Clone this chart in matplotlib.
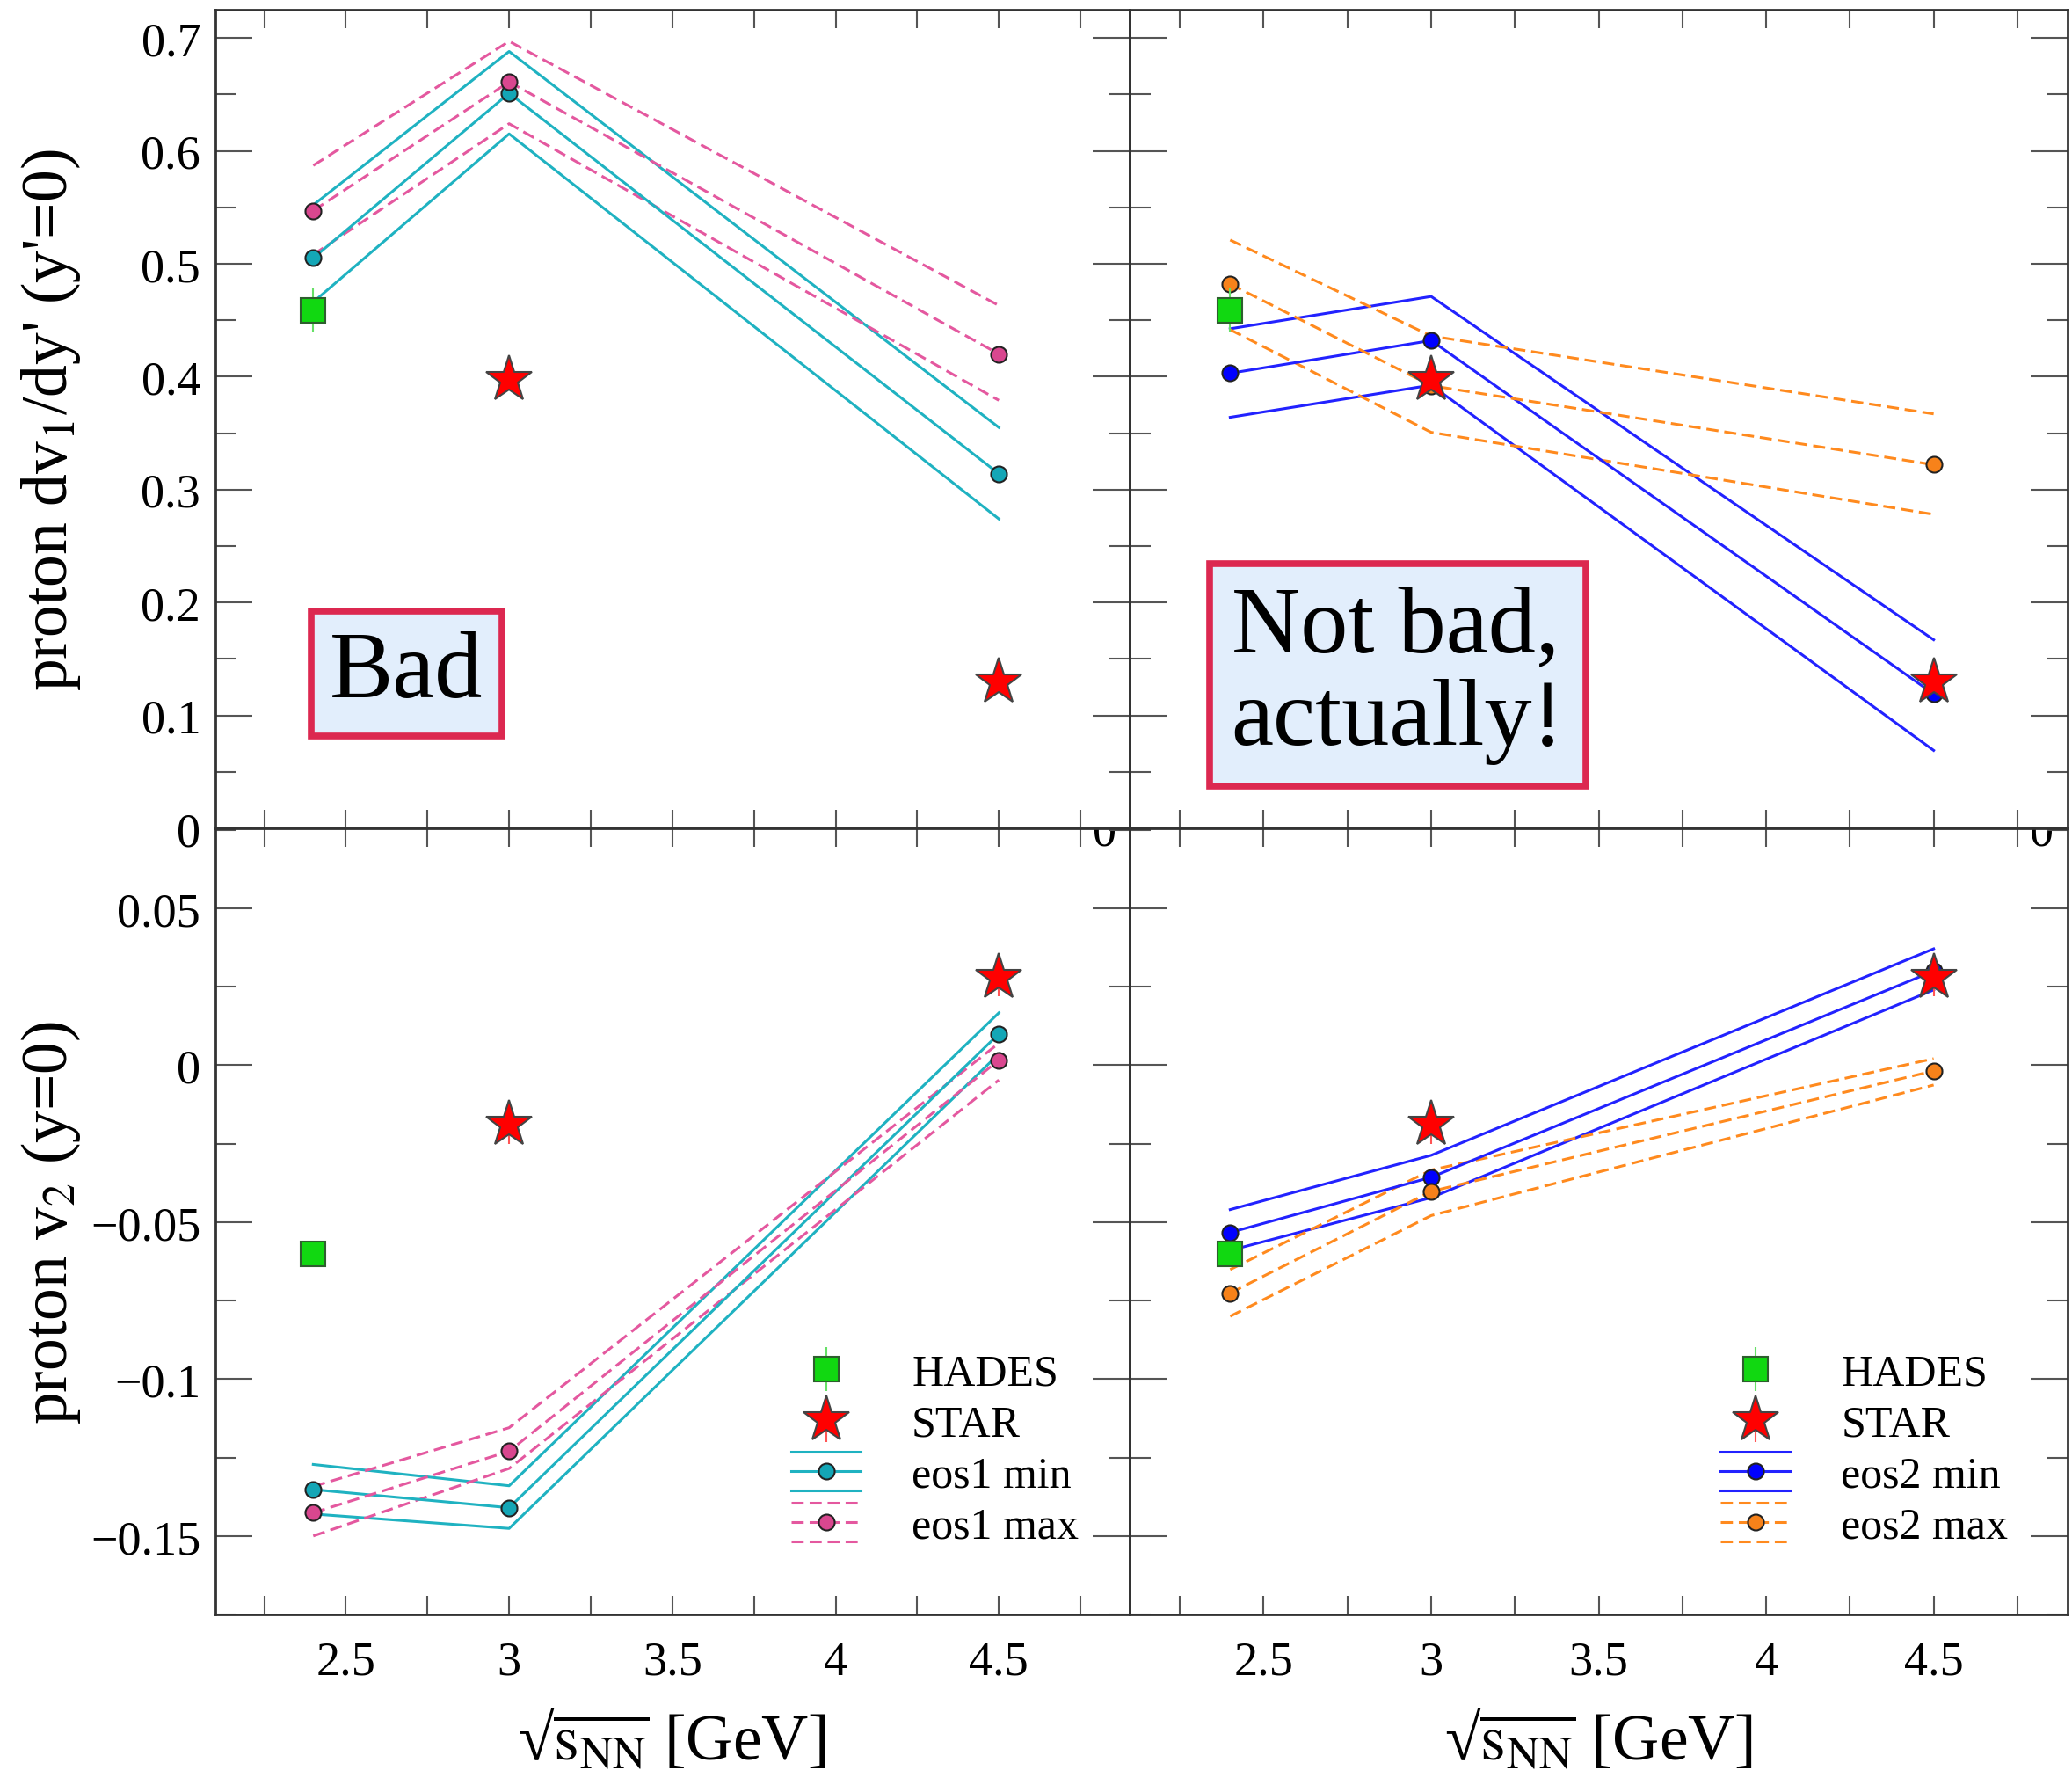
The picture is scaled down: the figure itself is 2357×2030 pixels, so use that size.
import matplotlib
matplotlib.use("Agg")
import matplotlib.pyplot as plt
from matplotlib.legend_handler import HandlerBase
from matplotlib.lines import Line2D
from matplotlib.ticker import MultipleLocator, FuncFormatter

plt.rcParams["font.family"] = ["Liberation Serif", "DejaVu Serif"]
plt.rcParams["mathtext.fontset"] = "stix"

# ── data ────────────────────────────────────────────────────────────────────
ENERGY = [2.4, 3.0, 4.5]

HADES_X = [2.4]
HADES_V1, HADES_V1_ERR = [0.459], [0.02]
HADES_V2, HADES_V2_ERR = [-0.060], [0.004]

STAR_X = [3.0, 4.5]
STAR_V1, STAR_V1_ERR = [0.397, 0.129], [0.008, 0.008]
STAR_V2, STAR_V2_ERR = [-0.019, 0.028], [0.006, 0.006]

# slope of v1 at midrapidity: (lower, central, upper)
EOS1_MIN_V1 = ([0.466, 0.615, 0.274], [0.505, 0.651, 0.314], [0.552, 0.688, 0.355])
EOS1_MAX_V1 = ([0.508, 0.624, 0.379], [0.547, 0.661, 0.420], [0.587, 0.697, 0.463])
EOS2_MIN_V1 = ([0.364, 0.3925, 0.069], [0.403, 0.432, 0.119], [0.4424, 0.471, 0.167])
EOS2_MAX_V1 = ([0.4416, 0.3507, 0.278], [0.482, 0.392, 0.322], [0.521, 0.436, 0.367])

# v2 at midrapidity: (lower, central, upper)
EOS1_MIN_V2 = ([-0.143, -0.1476, 0.0036], [-0.1352, -0.141, 0.0100], [-0.1272, -0.134, 0.0167])
EOS1_MAX_V2 = ([-0.150, -0.1285, -0.0047], [-0.1426, -0.123, 0.0016], [-0.1342, -0.1155, 0.0070])
EOS2_MIN_V2 = ([-0.059, -0.0422, 0.024], [-0.0533, -0.0357, 0.0300], [-0.046, -0.0287, 0.0371])
EOS2_MAX_V2 = ([-0.080, -0.0479, -0.0063], [-0.0726, -0.0402, -0.0018], [-0.0651, -0.0334, 0.0021])

# ── style ───────────────────────────────────────────────────────────────────
CYAN, CYAN_MK = "#1fb2c1", "#14a6b6"
PINK, PINK_MK = "#e4589f", "#d9478f"
BLUE, BLUE_MK = "#2222ff", "#0000ff"
ORNG, ORNG_MK = "#ff8a1e", "#f7821a"
DASH = (0, (4.5, 2.2))
LW, MS, EDGE = 2.2, 13, "#222222"
TICK_FS, LABEL_FS, LEG_FS, NOTE_FS = 39, 53, 36, 78
BOX_FC, BOX_EC = "#e2eefc", "#dc2850"


class BandHandler(HandlerBase):
    """Legend entry: central line with marker plus the two band edges."""

    def __init__(self, color, ls, mfc, gap=16.0):
        super().__init__()
        self.color, self.ls, self.mfc, self.gap = color, ls, mfc, gap

    def create_artists(self, legend, orig_handle, xdescent, ydescent,
                       width, height, fontsize, trans):
        yc = height / 2 - ydescent
        x0, x1 = -xdescent, width - xdescent
        arts = []
        for dy in (-self.gap, 0.0, self.gap):
            ln = Line2D([x0, x1], [yc + dy] * 2, color=self.color, ls=self.ls, lw=LW)
            ln.set_transform(trans)
            arts.append(ln)
        mk = Line2D([(x0 + x1) / 2], [yc], marker="o", ms=MS, mfc=self.mfc,
                    mec=EDGE, mew=1.5, ls="none")
        mk.set_transform(trans)
        arts.append(mk)
        return arts


def fmt(v, _):
    v = round(v, 4) + 0.0
    return f"{v:g}".replace("-", "\u2212")


def style_axes(ax, ylim, ymaj, ymin, ylabels, xlabels):
    ax.set_xlim(2.1, 4.9)
    ax.set_ylim(*ylim)
    ax.xaxis.set_major_locator(MultipleLocator(0.5))
    ax.xaxis.set_minor_locator(MultipleLocator(0.25))
    ax.yaxis.set_major_locator(MultipleLocator(ymaj))
    ax.yaxis.set_minor_locator(MultipleLocator(ymin))
    ax.xaxis.set_major_formatter(FuncFormatter(fmt))
    ax.yaxis.set_major_formatter(FuncFormatter(fmt))
    ax.tick_params(which="both", direction="in", top=True, right=True,
                   width=1.5, color="#555555", labelsize=TICK_FS)
    ax.tick_params(axis="x", which="both", length=15, pad=21, labelbottom=xlabels)
    ax.tick_params(axis="y", which="major", length=30, pad=12, labelleft=ylabels)
    ax.tick_params(axis="y", which="minor", length=17)
    for sp in ax.spines.values():
        sp.set_linewidth(2.0)
        sp.set_edgecolor("#333333")


def draw_model(ax, band, color, mfc, ls):
    lo, mid, hi = band
    for y in (lo, hi):
        ax.plot(ENERGY, y, color=color, ls=ls, lw=LW, zorder=2)
    ax.plot(ENERGY, mid, color=color, ls=ls, lw=LW, marker="o", ms=MS,
            mfc=mfc, mec=EDGE, mew=1.5, zorder=3)


def draw_data(ax, hades, hades_err, star, star_err):
    h = ax.errorbar(HADES_X, hades, yerr=hades_err, fmt="s", ms=20, mfc="#11d811",
                    mec="#2e5e2e", mew=1.5, ecolor="#66e066", elinewidth=1.5,
                    capsize=0, zorder=6)
    s = ax.errorbar(STAR_X, star, yerr=star_err, fmt="*", ms=40, mfc="#ff0000",
                    mec="#444444", mew=1.5, ecolor="#ff5555", elinewidth=1.5,
                    capsize=0, zorder=6)
    return h, s


fig = plt.figure(figsize=(23.57, 20.31), dpi=100)
ax_tl = fig.add_axes([0.1039, 0.5357, 0.4412, 0.4584])
ax_tr = fig.add_axes([0.5452, 0.5357, 0.4527, 0.4584])
ax_bl = fig.add_axes([0.1039, 0.0955, 0.4412, 0.4402])
ax_br = fig.add_axes([0.5452, 0.0955, 0.4527, 0.4402])

style_axes(ax_tl, (0, 0.725), 0.1, 0.05, True, False)
style_axes(ax_tr, (0, 0.725), 0.1, 0.05, False, False)
style_axes(ax_bl, (-0.175, 0.0755), 0.05, 0.025, True, True)
style_axes(ax_br, (-0.175, 0.0755), 0.05, 0.025, False, True)

# top row: dv1/dy'
draw_model(ax_tl, EOS1_MIN_V1, CYAN, CYAN_MK, "-")
draw_model(ax_tl, EOS1_MAX_V1, PINK, PINK_MK, DASH)
draw_data(ax_tl, HADES_V1, HADES_V1_ERR, STAR_V1, STAR_V1_ERR)

draw_model(ax_tr, EOS2_MIN_V1, BLUE, BLUE_MK, "-")
draw_model(ax_tr, EOS2_MAX_V1, ORNG, ORNG_MK, DASH)
draw_data(ax_tr, HADES_V1, HADES_V1_ERR, STAR_V1, STAR_V1_ERR)

# bottom row: v2
draw_model(ax_bl, EOS1_MIN_V2, CYAN, CYAN_MK, "-")
draw_model(ax_bl, EOS1_MAX_V2, PINK, PINK_MK, DASH)
h_l, s_l = draw_data(ax_bl, HADES_V2, HADES_V2_ERR, STAR_V2, STAR_V2_ERR)

draw_model(ax_br, EOS2_MIN_V2, BLUE, BLUE_MK, "-")
draw_model(ax_br, EOS2_MAX_V2, ORNG, ORNG_MK, DASH)
h_r, s_r = draw_data(ax_br, HADES_V2, HADES_V2_ERR, STAR_V2, STAR_V2_ERR)

# legends with three-line band entries
for ax, h, s, tag, (c1, m1), (c2, m2) in (
        (ax_bl, h_l, s_l, "eos1", (CYAN, CYAN_MK), (PINK, PINK_MK)),
        (ax_br, h_r, s_r, "eos2", (BLUE, BLUE_MK), (ORNG, ORNG_MK))):
    p_min, p_max = Line2D([], []), Line2D([], [])
    ax.legend([h, s, p_min, p_max], ["HADES", "STAR", f"{tag} min", f"{tag} max"],
              handler_map={p_min: BandHandler(c1, "-", m1),
                           p_max: BandHandler(c2, DASH, m2)},
              loc="upper left", bbox_to_anchor=(0.63, 0.332), frameon=False,
              fontsize=LEG_FS, handlelength=1.58, handletextpad=1.16,
              labelspacing=0.23, borderpad=0, borderaxespad=0)

# stray "0" labels peeking below the row divider
for ax in (ax_bl, ax_br):
    ax.text(4.823, 0.979, "0", transform=ax.get_xaxis_transform(), ha="center",
            va="baseline", fontsize=TICK_FS, clip_on=True, zorder=1)

# axis labels
ax_tl.set_ylabel("proton dv$_1$/dy' (y'=0)", fontsize=LABEL_FS)
ax_bl.set_ylabel("proton v$_2$ (y=0)", fontsize=LABEL_FS)
for ax in (ax_tl, ax_bl):
    ax.yaxis.set_label_coords(-0.145, 0.5)
for ax in (ax_bl, ax_br):
    ax.set_xlabel("\u221a" + r"$\overline{\mathrm{s}_{\mathrm{NN}}}$" + " [GeV]",
                  fontsize=LABEL_FS)
    ax.xaxis.set_label_coords(0.5, -0.119)

# verdict boxes
ax_tl.text(2.686, 0.137, "Bad", ha="center", va="center", fontsize=NOTE_FS, zorder=7,
           bbox=dict(boxstyle="square,pad=0.2", fc=BOX_FC, ec=BOX_EC, lw=5.5))
ax_tr.text(2.90, 0.136, "Not bad,\nactually!", ha="center", va="center",
           fontsize=NOTE_FS, linespacing=1.1, zorder=7, multialignment="left",
           bbox=dict(boxstyle="square,pad=0.23", fc=BOX_FC, ec=BOX_EC, lw=5.5))

fig.savefig("out.png", dpi=100)
